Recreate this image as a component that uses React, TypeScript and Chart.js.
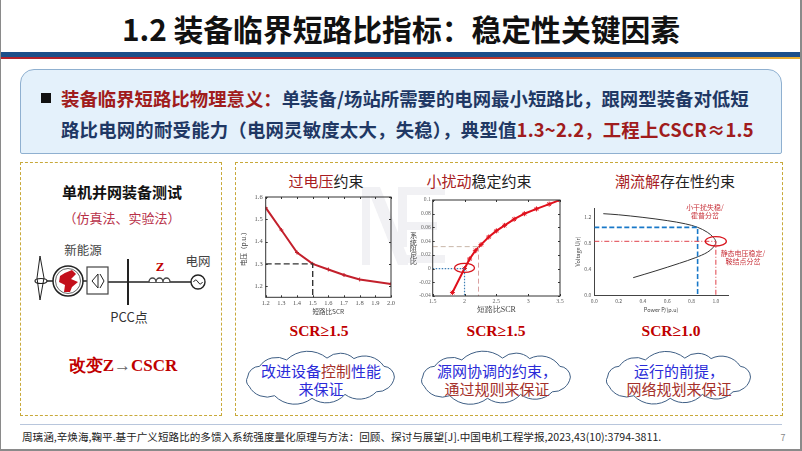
import React, { useEffect, useRef } from "react";
import { Chart, registerables } from "chart.js";

Chart.register(...registerables);

// ---- data ----
const overX = [1.2, 1.3, 1.4, 1.5, 1.6, 1.7, 1.8, 2.0];
const overY = [1.552, 1.452, 1.351, 1.3, 1.275, 1.25, 1.23, 1.21];
const overGuideX = [1.2, 1.5, 1.5];
const overGuideY = [1.3, 1.3, 1.15];

const smallX = [1.81, 2.0, 2.08, 2.17, 2.26, 2.38, 2.5, 2.63, 2.78, 2.94, 3.13, 3.33, 3.5];
const smallY = [-0.035, 0, 0.014, 0.026, 0.035, 0.046, 0.055, 0.063, 0.072, 0.08, 0.087, 0.094, 0.1];
const smallBlueX = [1.5, 2.0, 2.0];
const smallBlueY = [0, 0, -0.04];
const smallGrayX = [1.5, 2.22];
const smallGrayY = [0.032, 0.032];
const smallRedX = [2.22, 2.22];
const smallRedY = [0.032, -0.04];
const smallRing = [2.0, 0.001];

const pvX = [0.074, 0.2, 0.4, 0.6, 0.75, 0.85, 0.93, 0.98, 1.0, 0.98, 0.93, 0.83, 0.7, 0.5, 0.32];
const pvY = [1.257, 1.24, 1.2, 1.15, 1.1, 1.046, 0.97, 0.89, 0.82, 0.74, 0.66, 0.575, 0.49, 0.37, 0.268];
const pvBlueX = [0, 0.85, 0.85];
const pvBlueY = [1.046, 1.046, 0];
const pvRedX = [0, 1.0, 1.0];
const pvRedY = [0.83, 0.83, 0];
const pvRing = [1.0, 0.83];

const SERIF = '"Liberation Serif", serif';
const SANS = '"Noto Sans CJK SC", "Noto Sans", sans-serif';
const RED = "#c00000";

function xy(xs: number[], ys: number[]) {
  return xs.map((x, i) => ({ x, y: ys[i] }));
}

const boxPlugin = {
  id: "box",
  afterDraw(chart: any, _a: any, o: any) {
    if (!o || !o.on) return;
    const { ctx, chartArea: a, scales } = chart;
    ctx.save();
    ctx.strokeStyle = "#333";
    ctx.lineWidth = 1;
    ctx.strokeRect(a.left, a.top, a.right - a.left, a.bottom - a.top);
    ctx.beginPath();
    scales.x.ticks.forEach((t: any) => {
      const p = Math.round(scales.x.getPixelForValue(t.value)) + 0.5;
      ctx.moveTo(p, a.bottom); ctx.lineTo(p, a.bottom - 2);
      ctx.moveTo(p, a.top); ctx.lineTo(p, a.top + 2);
    });
    scales.y.ticks.forEach((t: any) => {
      const p = Math.round(scales.y.getPixelForValue(t.value)) + 0.5;
      ctx.moveTo(a.left, p); ctx.lineTo(a.left + 2, p);
      ctx.moveTo(a.right, p); ctx.lineTo(a.right - 2, p);
    });
    ctx.stroke();
    ctx.restore();
  },
};

const ringPlugin = {
  id: "ring",
  afterDatasetsDraw(chart: any, _a: any, o: any) {
    if (!o || !o.at) return;
    const { ctx, scales } = chart;
    ctx.save();
    ctx.strokeStyle = "#d8141c";
    ctx.lineWidth = 1.3;
    ctx.beginPath();
    ctx.ellipse(scales.x.getPixelForValue(o.at[0]), scales.y.getPixelForValue(o.at[1]), o.rx, o.ry, 0, 0, Math.PI * 2);
    ctx.stroke();
    ctx.restore();
  },
};

function guide(xs: number[], ys: number[], color: string, dash: number[], width = 1) {
  return {
    data: xy(xs, ys),
    borderColor: color,
    borderWidth: width,
    borderDash: dash,
    pointRadius: 0,
    tension: 0,
    fill: false,
  };
}

function axis(opts: any) {
  const { min, max, step, size, font, color, fmt, title, titleFont, padding } = opts;
  return {
    type: "linear",
    min,
    max,
    grid: { display: false, drawTicks: opts.outerTicks ?? false, tickLength: 2, color: "#555" },
    border: { display: opts.border ?? false, color: "#444" },
    ticks: {
      stepSize: step,
      includeBounds: false,
      font,
      color,
      padding,
      maxRotation: 0,
      autoSkip: false,
      callback: fmt,
    },
    title: title
      ? { display: true, text: title, font: titleFont, color: "#444", padding: 0 }
      : { display: false },
    afterFit: (s: any) => {
      if (s.isHorizontal()) s.height = size;
      else s.width = size;
    },
  };
}

const CHARTS: any[] = [
  {
    box: [240, 190, 165, 125],
    config: {
      type: "line",
      data: {
        datasets: [
          guide(overGuideX, overGuideY, "#333", [6, 3], 1.4),
          {
            data: xy(overX, overY),
            borderColor: "#c3202c",
            borderWidth: 2,
            pointStyle: "cross",
            pointRadius: 2,
            pointBorderWidth: 1,
            pointBorderColor: "#c3202c",
            tension: 0,
          },
        ],
      },
      options: {
        layout: { padding: { top: 7, right: 14, bottom: 0, left: 0 } },
        scales: {
          x: axis({
            min: 1.2, max: 2.0, step: 0.1, size: 17.7,
            font: { family: SERIF, size: 6.5 }, color: "#555", padding: 2,
            fmt: (v: number) => v.toFixed(1),
            title: "短路比SCR", titleFont: { family: SANS, size: 6.5 },
          }),
          y: axis({
            min: 1.15, max: 1.6, step: 0.1, size: 25.7,
            font: { family: SERIF, size: 6.5 }, color: "#555", padding: 3,
            fmt: (v: number) => v.toFixed(1),
            title: "电压（p.u.）", titleFont: { family: SANS, size: 6.5 },
          }),
        },
        plugins: { box: { on: true } },
      },
    },
  },
  {
    box: [415, 190, 155, 125],
    config: {
      type: "line",
      data: {
        datasets: [
          guide(smallGrayX, smallGrayY, "#c9b6a8", [5, 3]),
          guide(smallRedX, smallRedY, "#d9a0a0", [5, 3]),
          guide(smallBlueX, smallBlueY, "#3f7fb5", [1.5, 1.5], 1.2),
          {
            data: xy(smallX, smallY),
            borderColor: "#e0101c",
            borderWidth: 2,
            pointStyle: "star",
            pointRadius: 2.5,
            pointBorderWidth: 1,
            pointBorderColor: "#e0101c",
            tension: 0,
          },
        ],
      },
      options: {
        layout: { padding: { top: 10, right: 10, bottom: 0, left: 0 } },
        scales: {
          x: axis({
            min: 1.5, max: 3.5, step: 0.5, size: 19,
            font: { family: SERIF, size: 6 }, color: "#666", padding: 2,
            fmt: (v: number) => String(+v.toFixed(1)),
            title: "短路比SCR", titleFont: { family: SERIF, size: 8 },
          }),
          y: axis({
            min: -0.04, max: 0.1, step: 0.02, size: 17.7,
            font: { family: SERIF, size: 5.5 }, color: "#666", padding: 2,
            fmt: (v: number) => String(+v.toFixed(2)),
          }),
        },
        plugins: { box: { on: true }, ring: { at: smallRing, rx: 10, ry: 4.5 } },
      },
    },
  },
  {
    box: [575, 195, 167, 118],
    config: {
      type: "line",
      data: {
        datasets: [
          guide(pvRedX, pvRedY, "#e0404a", [5, 2, 1, 2]),
          guide(pvBlueX, pvBlueY, "#1878c8", [5, 2.5], 1.6),
          {
            data: xy(pvX, pvY),
            borderColor: "#333",
            borderWidth: 1,
            pointRadius: 0,
            tension: 0.35,
          },
        ],
      },
      options: {
        layout: { padding: { top: 13, right: 14, bottom: 0, left: 0 } },
        scales: {
          x: axis({
            min: 0, max: 1.1, step: 0.2, size: 18,
            font: { family: SANS, size: 5 }, color: "#555", padding: 1, border: true, outerTicks: true,
            fmt: (v: number) => v.toFixed(1),
            title: "Power P/(p.u)", titleFont: { family: SANS, size: 5.5 },
          }),
          y: axis({
            min: 0, max: 1.345, step: 0.4, size: 19.3,
            font: { family: SANS, size: 5 }, color: "#555", padding: 1, border: true, outerTicks: true,
            fmt: (v: number) => v.toFixed(1),
            title: "Voltage U(r)", titleFont: { family: SANS, size: 5.5 },
          }),
        },
        plugins: { ring: { at: pvRing, rx: 10.5, ry: 4.7 } },
      },
    },
  },
];

function PlotCanvas({ box, config }: { box: number[]; config: any }) {
  const ref = useRef<HTMLCanvasElement>(null);
  useEffect(() => {
    const chart = new Chart(ref.current as HTMLCanvasElement, {
      ...config,
      plugins: [boxPlugin, ringPlugin],
      options: {
        ...config.options,
        animation: false,
        responsive: false,
        devicePixelRatio: 1,
        plugins: { legend: { display: false }, tooltip: { enabled: false }, ...config.options.plugins },
      },
    });
    return () => chart.destroy();
  }, []);
  return (
    <canvas
      ref={ref}
      width={box[2]}
      height={box[3]}
      style={{ position: "absolute", left: box[0], top: box[1], width: box[2], height: box[3] }}
    />
  );
}

function T({ x, y, s, c, b, f, children, lh }: any) {
  return (
    <div
      style={{
        position: "absolute",
        left: x,
        top: y,
        transform: "translate(-50%,-50%)",
        whiteSpace: "nowrap",
        fontSize: s,
        color: c || "#222",
        fontWeight: b ? 700 : 400,
        fontFamily: f || SANS,
        lineHeight: lh || 1.1,
        textAlign: "center",
      }}
    >
      {children}
    </div>
  );
}

const CLOUD_OUTLINE = [
  [0.01, 0.48], [0.09, 0.23], [0.27, 0.08], [0.54, 0.04], [0.72, 0.05], [0.92, 0.23],
  [0.99, 0.48], [0.87, 0.82], [0.66, 0.88], [0.44, 0.97], [0.19, 0.91], [0.02, 0.69],
];

function cloud(w: number, h: number) {
  const pts = CLOUD_OUTLINE.map(([a, b]) => [(0.02 + 0.96 * a) * w, (0.1 + 0.8 * b) * h]);
  const n = pts.length;
  let d = `M${pts[0][0].toFixed(1)} ${pts[0][1].toFixed(1)}`;
  for (let i = 1; i <= n; i++) {
    const p = pts[i % n];
    const q = pts[i - 1];
    const r = Math.hypot(p[0] - q[0], p[1] - q[1]) * 0.75;
    d += ` A${r.toFixed(1)} ${r.toFixed(1)} 0 0 1 ${p[0].toFixed(1)} ${p[1].toFixed(1)}`;
  }
  return d + "Z";
}

function Cloud({ x, y, w, h }: any) {
  return (
    <svg style={{ position: "absolute", left: x, top: y, overflow: "visible" }} width={w} height={h}>
      <path d={cloud(w, h)} fill="#fff" stroke="#3f5f85" strokeWidth={1} />
    </svg>
  );
}

const BLUE = "#2b2bd8";
const DKRED = "#a5302a";

export default function App() {
  return (
    <div style={{ position: "absolute", left: 0, top: 0, width: 802, height: 451, background: "#fff", overflow: "hidden" }}>
      <style>{"html,body{margin:0;padding:0;background:#fff}"}</style>

      {/* frame */}
      <div style={{ position: "absolute", left: 0, top: 0, width: 1, height: 450, background: "#8a8a8a" }} />
      <div style={{ position: "absolute", left: 800, top: 0, width: 2, height: 450, background: "#8a8a8a" }} />
      <div style={{ position: "absolute", left: 0, top: 449, width: 802, height: 2, background: "#8a8a8a" }} />

      <T x={401} y={28} s={29.8} b c="#111">1.2 装备临界短路比指标：稳定性关键因素</T>
      <div style={{ position: "absolute", left: 1, top: 52, width: 799, height: 4.5, background: "#1c4f8a" }} />
      <div style={{ position: "absolute", left: 1, top: 56.5, width: 799, height: 2.5, background: "linear-gradient(90deg,#b0222c 0%,#b0222c 55%,#e8b030 100%)" }} />

      {/* definition box */}
      <div style={{ position: "absolute", left: 20, top: 69, width: 760, height: 83, background: "#e4f1fb", border: "1px solid #8fb0d0", borderRadius: "14px 14px 2px 2px", borderBottom: "1.5px solid #8fb0d0" }} />
      <div style={{ position: "absolute", left: 41, top: 93, width: 10, height: 10, background: "#111" }} />
      <div style={{ position: "absolute", left: 61, top: 98, transform: "translateY(-50%)", whiteSpace: "nowrap", fontSize: 18.4, fontWeight: 700, fontFamily: SANS, color: "#1f3864" }}>
        <span style={{ color: "#a01c1c" }}>装备临界短路比物理意义：</span>单装备/场站所需要的电网最小短路比，跟网型装备对低短
      </div>
      <div style={{ position: "absolute", left: 61, top: 129, transform: "translateY(-50%)", whiteSpace: "nowrap", fontSize: 18.4, letterSpacing: 0.2, fontWeight: 700, fontFamily: SANS, color: "#1f3864" }}>
        路比电网的耐受能力（电网灵敏度太大，失稳），典型值<span style={{ color: "#a01c1c" }}>1.3~2.2，工程上CSCR≈1.5</span>
      </div>

      {/* dashed panels */}
      <div style={{ position: "absolute", left: 20, top: 162, width: 200, height: 252, border: "1.5px dashed #c8a93a" }} />
      <div style={{ position: "absolute", left: 235, top: 162, width: 546, height: 252, border: "1.5px dashed #c8a93a" }} />

      {/* left panel */}
      <T x={122} y={192} s={15} b c="#111">单机并网装备测试</T>
      <T x={122} y={218} s={13} c="#b83048">（仿真法、实验法）</T>
      <T x={83} y={250} s={12.5} c="#444">新能源</T>
      <T x={198} y={261} s={12.5} c="#444">电网</T>
      <T x={160} y={267} s={13} b f={SERIF} c={RED}>Z</T>
      <T x={129} y={317} s={13} c="#333">PCC点</T>
      <T x={123} y={366} s={17} b f={SERIF} c={RED}>
        改变Z<span style={{ color: "#666", fontWeight: 400 }}>→</span>CSCR
      </T>
      <svg style={{ position: "absolute", left: 0, top: 0 }} width={802} height={451}>
        <g stroke="#222" fill="none">
          <path d="M40 256 L44 278 L40 300 L37 278 Z" strokeWidth={1} />
          <ellipse cx={41} cy={281} rx={6} ry={2.5} strokeWidth={1.2} />
          <path d="M47 281 H53 M83 281 H87 M108 282 H192" strokeWidth={1.5} />
          <circle cx={68} cy={281} r={15} strokeWidth={1.5} />
          <circle cx={68} cy={281} r={12.5} strokeWidth={1} stroke="#666" />
          <rect x={87} y={267} width={21} height={27} strokeWidth={1.2} stroke="#444" fill="#fff" />
          <path d="M92 281 L98 274 V288 Z M100 274 L104 281 L100 288" strokeWidth={1} />
          <path d="M128 259 V305" strokeWidth={2} />
          <path d="M149 282 a3.5 4 0 0 1 7 0 a3.5 4 0 0 1 7 0 a3.5 4 0 0 1 7 0" strokeWidth={1.4} fill="#fff" stroke="#444" />
          <circle cx={198} cy={282} r={7} strokeWidth={1.4} fill="#fff" />
          <path d="M193.5 282 q2.2 -4 4.5 0 t4.5 0" strokeWidth={1} />
        </g>
        <path d="M60 276 Q66 272 72 270 L76 274 L71 279 L78 282 L72 287 L70 292 L64 292 L65 285 L59 282 Z" fill="#c3101c" />
      </svg>

      {/* watermark */}
      <svg style={{ position: "absolute", left: 0, top: 0 }} width={802} height={451}>
        <g fill="#f1f1f4">
          <rect x={362} y={187} width={8} height={78} />
          <polygon points="370,187 380,187 408,258 408,265 398,265 370,195" />
          <rect x={398} y={187} width={9} height={60} />
          <rect x={407} y={187} width={38} height={8} />
          <rect x={407} y={222} width={30} height={8} />
          <rect x={407} y={255} width={38} height={8} />
        </g>
      </svg>

      {/* sub-chart titles */}
      <T x={326} y={181} s={15}><span style={{ color: "#a81c22" }}>过电压</span>约束</T>
      <T x={479} y={181} s={15}><span style={{ color: "#a81c22" }}>小扰动</span>稳定约束</T>
      <T x={675} y={181} s={15}><span style={{ color: "#a81c22" }}>潮流解</span>存在性约束</T>

      {CHARTS.map((c, i) => (
        <PlotCanvas key={i} box={c.box} config={c.config} />
      ))}

      <T x={413} y={249} s={6.5} f={SERIF} c="#333" lh={1}>系<br />统<br />阻<br />尼<br />比</T>
      <T x={705} y={207} s={7} c="#c8323a" lh={1}>小干扰失稳/</T>
      <T x={705} y={215} s={7} c="#c8323a" lh={1}>霍普分岔</T>
      <T x={743} y={253} s={7} c="#c8323a" lh={1}>静态电压稳定/</T>
      <T x={743} y={261} s={7} c="#c8323a" lh={1}>鞍结点分岔</T>

      <T x={319} y={331} s={15.5} b f={SERIF} c={RED}>SCR≥1.5</T>
      <T x={496} y={331} s={15.5} b f={SERIF} c={RED}>SCR≥1.5</T>
      <T x={671} y={331} s={15.5} b f={SERIF} c={RED}>SCR≥1.0</T>

      <Cloud x={243} y={351} w={156} h={54} />
      <Cloud x={418} y={351} w={157} h={54} />
      <Cloud x={603} y={351} w={152} h={54} />

      <T x={321} y={370} s={15} lh={1}>
        <span style={{ color: BLUE }}>改进设备</span><span style={{ color: DKRED }}>控制</span><span style={{ color: BLUE }}>性能</span>
      </T>
      <T x={321} y={388} s={15} lh={1} c={BLUE}>来保证</T>
      <T x={497} y={370} s={15} lh={1} c={BLUE}>源网协调的约束，</T>
      <T x={497} y={388} s={15} lh={1} c={DKRED}>通过规则来保证</T>
      <T x={679} y={370} s={15} lh={1} c={BLUE}>运行的前提，</T>
      <T x={679} y={388} s={15} lh={1} c={DKRED}>网络规划来保证</T>

      {/* footer */}
      <div style={{ position: "absolute", left: 20, top: 424, width: 762, height: 1, background: "#b8c6dc" }} />
      <div style={{ position: "absolute", left: 22, top: 436, transform: "translateY(-50%)", whiteSpace: "nowrap", fontSize: 10.6, fontFamily: SANS, color: "#222" }}>
        周璃涵,辛焕海,鞠平.基于广义短路比的多馈入系统强度量化原理与方法：回顾、探讨与展望[J].中国电机工程学报,2023,43(10):3794-3811.
      </div>
      <T x={783} y={438} s={9} c="#888">7</T>
    </div>
  );
}
